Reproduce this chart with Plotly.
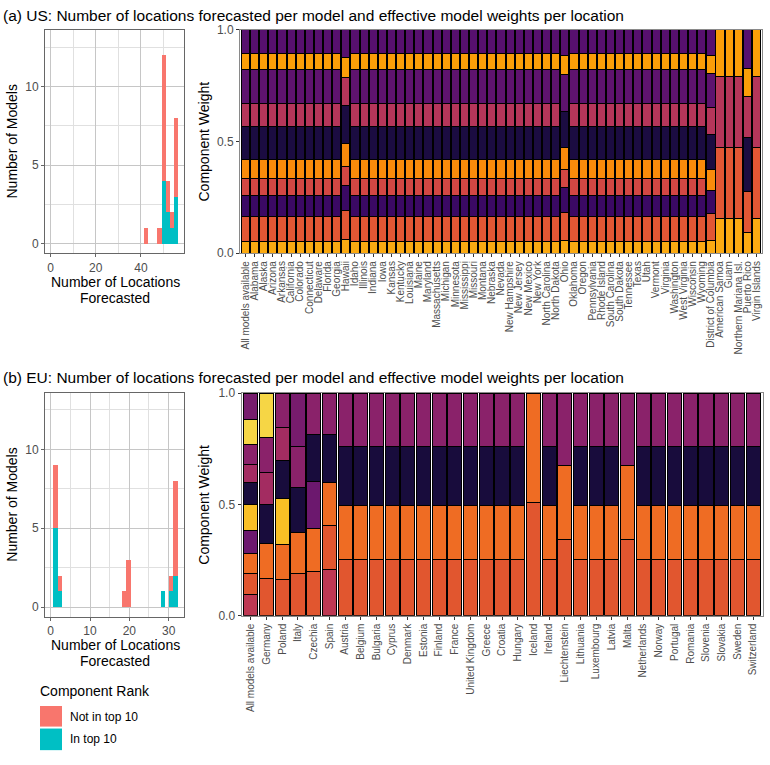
import plotly.graph_objects as go

W, H = 770, 765
FONT = "Liberation Sans"

# ---------------- data ----------------
us_locations = ["All models available", "Alabama", "Alaska", "Arizona", "Arkansas", "California",
                "Colorado", "Connecticut", "Delaware", "Florida", "Georgia", "Hawaii", "Idaho",
                "Illinois", "Indiana", "Iowa", "Kansas", "Kentucky", "Louisiana", "Maine",
                "Maryland", "Massachusetts", "Michigan", "Minnesota", "Mississippi", "Missouri",
                "Montana", "Nebraska", "Nevada", "New Hampshire", "New Jersey", "New Mexico",
                "New York", "North Carolina", "North Dakota", "Ohio", "Oklahoma", "Oregon",
                "Pennsylvania", "Rhode Island", "South Carolina", "South Dakota", "Tennessee",
                "Texas", "Utah", "Vermont", "Virginia", "Washington", "West Virginia",
                "Wisconsin", "Wyoming", "District of Columbia", "American Samoa", "Guam",
                "Northern Mariana Isl.", "Puerto Rico", "Virgin Islands"]

us_models = ["Model A", "Model B", "Model C", "Model D", "Model E",
             "Model F", "Model G", "Model H", "Model I", "Model J"]
us_colors = ["#FBAA12", "#E25734", "#3B0964", "#D34743", "#F98B0B",
             "#1B0C41", "#B5365A", "#5E136E", "#FB9E08", "#57106E"]

# weights per model (bottom to top) for each distinct bar profile
us_w_typical = [0.050, 0.114, 0.096, 0.073, 0.088, 0.144, 0.105, 0.151, 0.073, 0.106]
us_w_hawaii = [0.059, 0.132, 0.110, 0.086, 0.103, 0.170, 0.127, None, 0.088, 0.125]
us_w_ohio = [0.057, 0.126, 0.110, 0.082, 0.097, 0.161, None, 0.165, 0.085, 0.117]
us_w_dc = [0.057, 0.122, 0.103, None, 0.092, 0.157, 0.120, 0.155, 0.080, 0.114]
us_w_territory = [0.154, 0.321, None, None, None, None, 0.315, None, 0.210, None]
us_w_puerto_rico = [0.091, 0.186, None, None, None, 0.239, 0.186, None, 0.125, 0.173]

us_profile = {"Hawaii": us_w_hawaii, "Ohio": us_w_ohio, "District of Columbia": us_w_dc,
              "American Samoa": us_w_territory, "Guam": us_w_territory,
              "Northern Mariana Isl.": us_w_territory, "Virgin Islands": us_w_territory,
              "Puerto Rico": us_w_puerto_rico}

eu_locations = ["All models available", "Germany", "Poland", "Italy", "Czechia", "Spain",
                "Austria", "Belgium", "Bulgaria", "Cyprus", "Denmark", "Estonia", "Finland",
                "France", "United Kingdom", "Greece", "Croatia", "Hungary", "Iceland", "Ireland",
                "Liechtenstein", "Lithuania", "Luxembourg", "Latvia", "Malta", "Netherlands",
                "Norway", "Portugal", "Romania", "Slovenia", "Slovakia", "Sweden", "Switzerland"]

eu_models = ["Model P", "Model Q", "Model R", "Model S", "Model T",
             "Model U", "Model V", "Model W", "Model X", "Model Y"]
eu_colors = ["#BE3853", "#E1562F", "#EF6C23", "#6C186E", "#F9BF25",
             "#180C3C", "#A32C61", "#8A226A", "#F6D645", "#771C6D"]

eu_w_all = [0.096, 0.092, 0.091, 0.103, 0.118, 0.099, 0.080, 0.089, 0.114, 0.118]
eu_w_germany = [None, 0.165, 0.159, None, None, 0.176, 0.144, 0.157, 0.199, None]
eu_w_poland = [None, 0.162, 0.159, None, 0.204, 0.174, 0.147, 0.154, None, None]
eu_w_italy = [None, 0.191, 0.184, None, None, 0.201, None, 0.184, None, 0.240]
eu_w_czechia = [None, 0.199, 0.191, 0.213, None, 0.209, None, 0.188, None, None]
eu_w_spain = [0.209, 0.198, 0.193, None, None, 0.212, None, 0.188, None, None]
eu_w_typical = [None, 0.254, 0.242, None, None, 0.266, None, 0.238, None, None]
eu_w_iceland = [None, 0.510, 0.490, None, None, None, None, None, None, None]
eu_w_three = [None, 0.343, 0.331, None, None, None, None, 0.326, None, None]

eu_profile = {"All models available": eu_w_all, "Germany": eu_w_germany, "Poland": eu_w_poland,
              "Italy": eu_w_italy, "Czechia": eu_w_czechia, "Spain": eu_w_spain,
              "Iceland": eu_w_iceland, "Liechtenstein": eu_w_three, "Malta": eu_w_three}

# histograms: number of models by number of locations forecasted
us_bin_centers = [42.2, 48.2, 50.1, 52.0, 53.8, 55.7]
us_in_top10 = [0, 0, 4, 2, 1, 3]
us_not_top10 = [1, 1, 8, 2, 1, 5]
us_bin_width = 1.9

eu_bin_centers = [1.2, 2.3, 18.7, 19.8, 28.6, 30.6, 31.7]
eu_in_top10 = [5, 1, 0, 0, 1, 1, 2]
eu_not_top10 = [4, 1, 1, 3, 0, 1, 6]
eu_bin_width = 1.1

rank_labels = ["Not in top 10", "In top 10"]
rank_colors = ["#F8766D", "#00BFC4"]

# ---------------- figure ----------------
def fx(p):
    return p / W


def fy(p):
    return 1 - p / H


fig = go.Figure()

# histograms
for (cent, intop, notop, wid, xa, ya) in [
        (us_bin_centers, us_in_top10, us_not_top10, us_bin_width, "x", "y"),
        (eu_bin_centers, eu_in_top10, eu_not_top10, eu_bin_width, "x3", "y3")]:
    fig.add_trace(go.Bar(x=cent, y=intop, width=wid, marker_color=rank_colors[1],
                         marker_line_width=0, name=rank_labels[1], showlegend=False,
                         xaxis=xa, yaxis=ya))
    fig.add_trace(go.Bar(x=cent, y=notop, width=wid, marker_color=rank_colors[0],
                         marker_line_width=0, name=rank_labels[0], showlegend=False,
                         xaxis=xa, yaxis=ya))

# stacked weights
for i, m in enumerate(us_models):
    vals = [us_profile.get(loc, us_w_typical)[i] for loc in us_locations]
    fig.add_trace(go.Bar(x=us_locations, y=vals, name=m, marker_color=us_colors[i],
                         marker_line=dict(color="black", width=1), showlegend=False,
                         xaxis="x2", yaxis="y2"))
for i, m in enumerate(eu_models):
    vals = [eu_profile.get(loc, eu_w_typical)[i] for loc in eu_locations]
    fig.add_trace(go.Bar(x=eu_locations, y=vals, name=m, marker_color=eu_colors[i],
                         marker_line=dict(color="black", width=1), showlegend=False,
                         xaxis="x4", yaxis="y4"))

tickfont = dict(family=FONT, size=12, color="#4D4D4D")
catfont = dict(family=FONT, size=10, color="#4D4D4D")
border = "#666666"
grid = "#C6C6C6"
mgrid = "#E0E0E0"

hist_common = dict(showline=True, mirror=True, linecolor=border, linewidth=1,
                   showgrid=True, gridcolor=grid, gridwidth=1, zeroline=False,
                   ticks="outside", ticklen=3, tickcolor=border, tickfont=tickfont)
bar_common = dict(showline=True, mirror=True, linecolor="#8A8A8A", linewidth=1,
                  showgrid=False, zeroline=False, ticks="outside", ticklen=3,
                  tickcolor="#333333")

us_y = [fy(250.7), fy(23.3)]
eu_y = [fy(621.0), fy(392.7)]

fig.update_layout(
    width=W, height=H, margin=dict(l=0, r=0, t=0, b=0), autosize=False,
    paper_bgcolor="white", plot_bgcolor="white",
    barmode="stack", bargap=0.1,
    font=dict(family=FONT, color="black"),
    xaxis=dict(domain=[fx(45), fx(184)], range=[-2.5, 59.1], tickvals=[0, 20, 40],
               minor=dict(tickvals=[10, 30, 50], showgrid=True, gridcolor=mgrid, ticks=""),
               anchor="y", **hist_common),
    yaxis=dict(domain=us_y, range=[-0.6, 13.6], tickvals=[0, 5, 10],
               minor=dict(tickvals=[2.5, 7.5, 12.5], showgrid=True, gridcolor=mgrid, ticks=""),
               anchor="x", **hist_common),
    xaxis2=dict(domain=[fx(240), fx(762)], type="category", range=[-0.6, len(us_locations) - 0.4],
                tickmode="array", tickvals=us_locations, ticktext=us_locations,
                tickangle=-90, tickfont=catfont, anchor="y2", **bar_common),
    yaxis2=dict(domain=us_y, range=[0, 1], tickvals=[0, 0.5, 1], ticktext=["0.0", "0.5", "1.0"],
                tickfont=tickfont, anchor="x2", **bar_common),
    xaxis3=dict(domain=[fx(45), fx(184)], range=[-1.44, 33.9], tickvals=[0, 10, 20, 30],
                minor=dict(tickvals=[5, 15, 25], showgrid=True, gridcolor=mgrid, ticks=""),
                anchor="y3", **hist_common),
    yaxis3=dict(domain=eu_y, range=[-0.6, 13.6], tickvals=[0, 5, 10],
                minor=dict(tickvals=[2.5, 7.5, 12.5], showgrid=True, gridcolor=mgrid, ticks=""),
                anchor="x3", **hist_common),
    xaxis4=dict(domain=[fx(241.5), fx(762.5)], type="category", range=[-0.6, len(eu_locations) - 0.4],
                tickmode="array", tickvals=eu_locations, ticktext=eu_locations,
                tickangle=-90, tickfont=catfont, anchor="y4", **bar_common),
    yaxis4=dict(domain=[fy(620), fy(393.3)], range=[0, 1], tickvals=[0, 0.5, 1],
                ticktext=["0.0", "0.5", "1.0"], tickfont=tickfont, anchor="x4", **bar_common),
)

ann = []
def text(t, x, y, size=14, angle=0, xanchor="center", color="black"):
    ann.append(dict(text=t, x=fx(x), y=fy(y), xref="paper", yref="paper", showarrow=False,
                    textangle=angle, xanchor=xanchor, yanchor="middle",
                    font=dict(family=FONT, size=size, color=color)))

text("(a) US: Number of locations forecasted per model and effective model weights per location",
     1, 9, size=15.5, xanchor="left")
text("(b) EU: Number of locations forecasted per model and effective model weights per location",
     1, 377, size=15.5, xanchor="left")
text("Number of Models", 12, 137, angle=-90)
text("Component Weight", 204, 137, angle=-90)
text("Number of Locations", 115, 280)
text("Forecasted", 115, 296)
text("Number of Models", 12, 507, angle=-90)
text("Component Weight", 204, 507, angle=-90)
text("Number of Locations", 115, 650)
text("Forecasted", 115, 666)
text("Component Rank", 38, 697, xanchor="left")
text(rank_labels[0], 68, 723, size=12, xanchor="left")
text(rank_labels[1], 68, 746, size=12, xanchor="left")

shapes = []
for k, (y0, y1) in enumerate([(712, 733), (735, 757)]):
    shapes.append(dict(type="rect", xref="paper", yref="paper", x0=fx(40), x1=fx(62),
                       y0=fy(y1), y1=fy(y0), fillcolor=rank_colors[k], line=dict(width=0)))

fig.update_layout(annotations=ann, shapes=shapes)
fig.write_html("out.html", config={"responsive": False, "displayModeBar": False},
               post_script="document.body.style.margin='0';document.body.style.padding='0';")
